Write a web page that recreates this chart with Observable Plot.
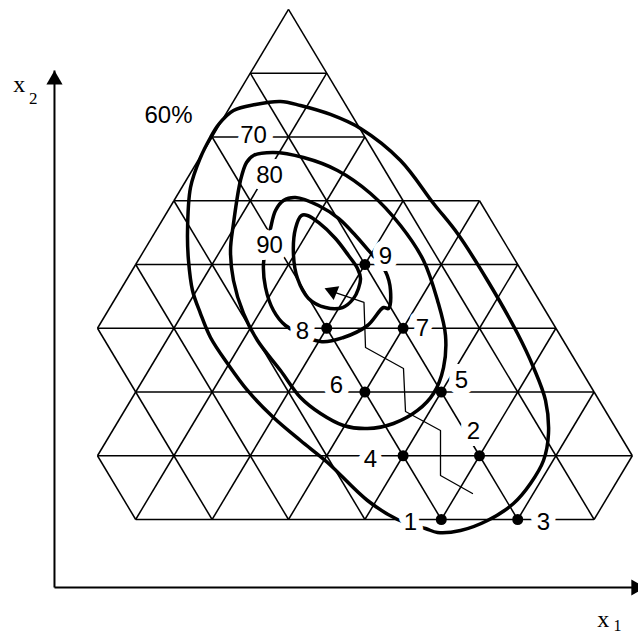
<!DOCTYPE html>
<html>
<head>
<meta charset="utf-8">
<script src="https://cdn.jsdelivr.net/npm/d3@7"></script>
<script src="https://cdn.jsdelivr.net/npm/@observablehq/plot@0.6"></script>
<style>
  html, body { margin: 0; padding: 0; background: #fff; }
</style>
</head>
<body>
<div id="chart"></div>
<script>
// Lattice coordinates: u = half-side units (horizontal), v = row level above the bottom row.
const xDomain = [-7.539, 9.162];
const yDomain = [-1.804, 8.141];

// Triangular grid: horizontal extent of each lattice row, from the apex row (0) down to the base row (8)
const rowLeft  = [0, -1, -2, -3, -4, -5, -4, -5, -4];
const rowRight = [0,  1,  2,  5,  6,  7,  8,  9,  8];

// Contours, outer to inner
const contour60 = [
  [2.853,0.000],[2.068,0.298],[1.021,0.894],[0.314,1.239],[-0.393,1.600],[-1.073,2.024],
  [-1.597,2.447],[-2.042,2.855],[-2.304,3.231],[-2.513,3.592],[-2.618,4.063],[-2.644,4.486],
  [-2.565,5.208],[-2.304,5.678],[-2.042,5.992],[-1.832,6.196],[-1.440,6.416],[-0.864,6.510],
  [-0.209,6.557],[0.314,6.494],[1.099,6.353],[1.885,6.133],[2.932,5.631],[3.796,4.957],
  [4.424,4.486],[5.209,3.749],[5.995,2.918],[6.414,2.384],[6.728,1.867],[6.806,1.349],
  [6.675,0.925],[6.335,0.565],[5.890,0.251],[5.209,-0.016],[4.503,-0.173],[3.901,-0.204],
  [3.586,-0.141]
];
const contour70 = [
  [-0.916,5.710],[-0.393,5.757],[0.393,5.678],[1.283,5.475],[2.147,5.114],[2.932,4.612],
  [3.534,4.063],[3.901,3.435],[4.110,2.886],[4.058,2.384],[3.796,1.976],[3.377,1.710],
  [2.749,1.506],[2.068,1.427],[1.440,1.475],[0.838,1.663],[0.314,1.914],[-0.209,2.337],
  [-0.812,2.808],[-1.178,3.231],[-1.440,3.749],[-1.518,4.220],[-1.440,4.643],[-1.257,5.318],
  [-1.099,5.600]
];
const contour80 = [
  [-0.471,4.565],[-0.340,4.847],[-0.131,5.004],[0.183,5.051],[0.785,4.925],[1.309,4.722],
  [1.754,4.455],[2.094,4.220],[2.539,3.890],[2.670,3.592],[2.618,3.310],[2.487,3.325],
  [2.068,3.043],[1.440,2.855],[0.838,2.792],[-0.079,3.043],[-0.393,3.278],[-0.602,3.639],
  [-0.654,4.016]
];
const contour90 = [
  [0.340,4.769],[0.183,4.565],[0.131,4.141],[0.236,3.780],[0.524,3.467],[0.969,3.325],
  [1.414,3.325],[1.702,3.467],[1.832,3.624],[1.885,3.780],[1.806,3.937],[1.571,4.141],
  [1.230,4.408],[0.785,4.659],[0.497,4.769]
];

// Experiment points on lattice nodes
const pointIds = ["1","2","3","4","5","6","7","8","9"];
const pointU   = [4, 5, 6, 3, 4, 2, 3, 1, 2];
const pointV   = [0, 1, 0, 1, 2, 2, 3, 3, 4];

// Label positions
const labelText = ["1","2","3","4","5","6","7","8","9","60%","70","80","90"];
const labelU = [3.194, 4.843, 6.675, 2.147, 4.529, 1.257, 3.508, 0.366, 2.539, -3.141, -0.916, -0.497, -0.497];
const labelV = [-0.047, 1.380, -0.047, 0.941, 2.180, 2.102, 2.996, 2.949, 4.125, 6.337, 6.024, 5.396, 4.298];

// Search path ending in an arrow
const pathU = [4.817, 3.979, 3.979, 3.063, 3.010, 2.016, 1.976, 1.152];
const pathV = [0.408, 0.690, 1.396, 1.694, 2.369, 2.698, 3.404, 3.576];

// Axes
const axisOrigin = [-6.126, -1.067];
const x2AxisTop = 7.043;
const x1AxisEnd = 9.34;

// ---- build tables ----
const gridSegs = [];
for (let r = 1; r < rowLeft.length; r++) {
  gridSegs.push({x1: rowLeft[r], y1: 8 - r, x2: rowRight[r], y2: 8 - r});
}
for (let r = 0; r < rowLeft.length - 1; r++) {
  for (let u = rowLeft[r]; u <= rowRight[r]; u += 2) {
    for (const d of [-1, 1]) {
      const w = u + d;
      if (w >= rowLeft[r + 1] && w <= rowRight[r + 1]) {
        gridSegs.push({x1: u, y1: 8 - r, x2: w, y2: 7 - r});
      }
    }
  }
}
const points = pointIds.map((id, i) => ({id, u: pointU[i], v: pointV[i]}));
const labels = labelText.map((t, i) => ({t, u: labelU[i], v: labelV[i]}));
const path = pathU.map((u, i) => ({u, v: pathV[i]}));
const pathEnd = [path[path.length - 1]];

const sans = "'Liberation Sans', Arial, Helvetica, sans-serif";
const serif = "'Liberation Serif', 'Times New Roman', serif";
const contourOpts = {x: d => d[0], y: d => d[1], curve: "catmull-rom-closed", stroke: "black", strokeWidth: 3.5};

const chart = Plot.plot({
  width: 638,
  height: 634,
  margin: 0,
  x: {domain: xDomain, axis: null},
  y: {domain: yDomain, axis: null},
  style: {background: "white"},
  marks: [
    Plot.link(gridSegs, {x1: "x1", y1: "y1", x2: "x2", y2: "y2", stroke: "black", strokeWidth: 1.5}),
    Plot.line(contour60, contourOpts),
    Plot.line(contour70, contourOpts),
    Plot.line(contour80, contourOpts),
    Plot.line(contour90, contourOpts),
    Plot.line(path, {x: "u", y: "v", stroke: "black", strokeWidth: 1.3}),
    Plot.dot(pathEnd, {x: "u", y: "v", symbol: "triangle", r: 5.5, fill: "black", stroke: "none", rotate: -68}),
    // axes
    Plot.link([
      {x1: axisOrigin[0], y1: axisOrigin[1], x2: axisOrigin[0], y2: x2AxisTop},
      {x1: axisOrigin[0], y1: axisOrigin[1], x2: x1AxisEnd, y2: axisOrigin[1]}
    ], {x1: "x1", y1: "y1", x2: "x2", y2: "y2", stroke: "black", strokeWidth: 2}),
    Plot.dot([{u: axisOrigin[0], v: x2AxisTop}], {x: "u", y: "v", symbol: "triangle", r: 6, fill: "black", stroke: "none", dy: 9.3}),
    Plot.dot([{u: x1AxisEnd, v: axisOrigin[1]}], {x: "u", y: "v", symbol: "triangle", r: 6, fill: "black", stroke: "none", rotate: 90, dx: -9.3}),
    // axis titles
    Plot.text([{u: -7.207, v: 6.703}], {x: "u", y: "v", text: () => "x", fontFamily: serif, fontSize: 24, textAnchor: "start", lineAnchor: "bottom", fill: "black"}),
    Plot.text([{u: -6.793, v: 6.521}], {x: "u", y: "v", text: () => "2", fontFamily: serif, fontSize: 17, textAnchor: "start", lineAnchor: "bottom", fill: "black"}),
    Plot.text([{u: 8.081, v: -1.689}], {x: "u", y: "v", text: () => "x", fontFamily: serif, fontSize: 24, textAnchor: "start", lineAnchor: "bottom", fill: "black"}),
    Plot.text([{u: 8.508, v: -1.745}], {x: "u", y: "v", text: () => "1", fontFamily: serif, fontSize: 16, textAnchor: "start", lineAnchor: "bottom", fill: "black"}),
    // labels with white boxes
    Plot.text(labels, {x: "u", y: "v", text: "t", fontFamily: sans, fontSize: 24, fill: "black",
      stroke: "white", strokeWidth: 14, strokeLinejoin: "round", paintOrder: "stroke"}),
    Plot.dot(points, {x: "u", y: "v", r: 5.5, fill: "black", stroke: "none"})
  ]
});
document.getElementById("chart").appendChild(chart);
</script>
</body>
</html>
